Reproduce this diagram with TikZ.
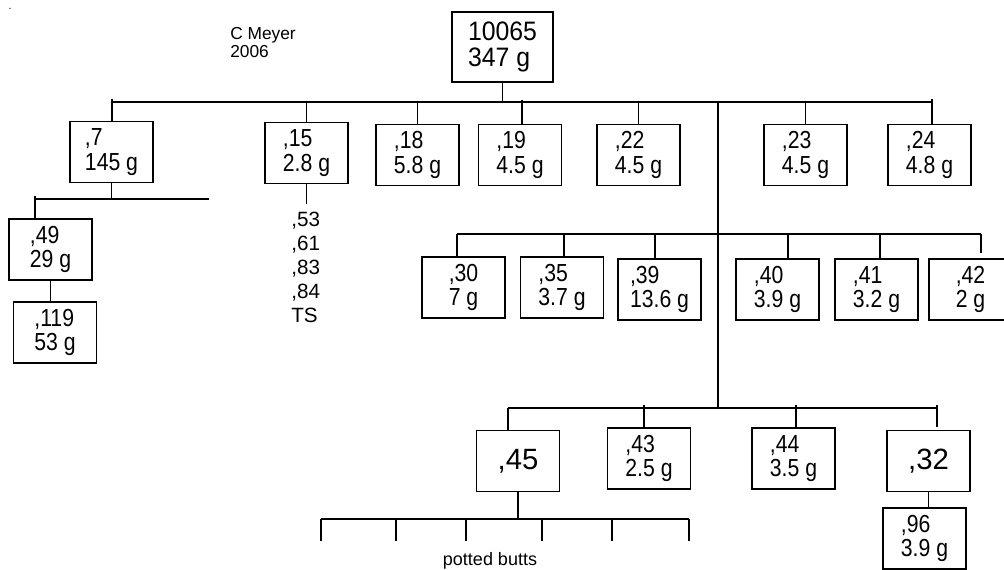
\documentclass[tikz,border=0pt]{standalone}
\usepackage{fontspec}
\setmainfont{Liberation Sans}
\newfontfamily\narrowfont[FakeStretch=0.86]{Liberation Sans}
\newfontfamily\rootfont[FakeStretch=0.93]{Liberation Sans}
\tikzset{
  wire/.style={line width=1.2pt},
  box/.style={draw, line width=1.2pt, minimum width=62.25pt, minimum height=45.75pt, inner sep=0pt, align=left, font=\narrowfont\fontsize{18.5}{18.5}\selectfont},
  bigbox/.style={box, font=\fontsize{22}{22}\selectfont},
  rootbox/.style={box, minimum width=75.75pt, minimum height=52.5pt, font=\rootfont\fontsize{20}{19}\selectfont},
}
\begin{document}
\begin{tikzpicture}[x=0.75pt,y=0.75pt,yscale=-1,xscale=1]
\path [use as bounding box, clip] (0,0) rectangle (1004,569);

% Text Node
\node [inner sep=0pt, font=\fontsize{8}{8}\selectfont] (dot) at (10,9) {.};
% Text Node
\node [anchor=north west, inner sep=0pt, align=left, font=\fontsize{13}{13.5}\selectfont] (author) at (230,27) {C Meyer\\2006};

%Shape: Rectangle
\node [rootbox] (root) at (502.5,47) {10065\\347 g};

%Shape: Rectangle (first row)
\node [box] (n7) at (111.5,152) {,7\\145 g};
\node [box] (n15) at (306.5,153) {,15\\2.8 g};
\node [box] (n18) at (417.5,155) {,18\\5.8 g};
\node [box] (n19) at (520,155) {,19\\4.5 g};
\node [box] (n22) at (638.5,155) {,22\\4.5 g};
\node [box] (n23) at (805.5,155) {,23\\4.5 g};
\node [box] (n24) at (929.5,155) {,24\\4.8 g};

%Shape: Rectangle (under ,7)
\node [box] (n49) at (50.5,249.5) {,49\\29 g};
\node [box] (n119) at (55,332.5) {,119\\53 g};

% Text Node
\node [anchor=north west, inner sep=0pt, align=left, font=\fontsize{15.5}{18}\selectfont] (list15) at (291,212) {,53\\,61\\,83\\,84\\TS};

%Shape: Rectangle (second row)
\node [box] (n30) at (463.5,287.5) {,30\\7 g};
\node [box] (n35) at (562,287.5) {,35\\3.7 g};
\node [box] (n39) at (659.5,289.5) {,39\\13.6 g};
\node [box] (n40) at (777.5,289.5) {,40\\3.9 g};
\node [box] (n41) at (876.5,289.5) {,41\\3.2 g};
\node [box] (n42) at (970.5,289.5) {,42\\2 g};

%Shape: Rectangle (third row)
\node [bigbox] (n45) at (518,461) {,45};
\node [box] (n43) at (649,458.5) {,43\\2.5 g};
\node [box] (n44) at (793.5,458.5) {,44\\3.5 g};
\node [bigbox] (n32) at (928.5,461) {,32};
\node [box] (n96) at (924.5,538.5) {,96\\3.9 g};

% Text Node
\node [inner sep=0pt, font=\fontsize{13.5}{13.5}\selectfont] (potted) at (490,561) {potted butts};

%Straight Lines (top bar)
\coordinate (busAL) at (112,102);
\coordinate (busAR) at (932,102);
\draw [wire] (busAL) -- (busAR);
\draw [wire] (root.south) -- (root.south |- busAL);
\coordinate (t7) at (112,99);
\draw [wire] (t7) -- (t7 |- n7.north);
\draw [wire] (n15.north |- busAL) -- (n15.north);
\draw [wire] (n18.north |- busAL) -- (n18.north);
\coordinate (t19) at (522,100);
\draw [wire] (t19) -- (t19 |- n19.north);
\draw [wire] (n22.north |- busAL) -- (n22.north);
\draw [wire] (n23.north |- busAL) -- (n23.north);
\coordinate (t24) at (932,99);
\draw [wire] (t24) -- (t24 |- n24.north);

%Straight Lines (trunk)
\coordinate (trunkA) at (718,102);
\coordinate (trunkB) at (718,408);
\draw [wire] (trunkA) -- (trunkB);

%Straight Lines (under ,7)
\coordinate (busEL) at (35,199);
\coordinate (busER) at (209,199);
\draw [wire] (n7.south) -- (n7.south |- busEL);
\draw [wire] (busEL) -- (busER);
\coordinate (t49) at (35,196);
\draw [wire] (t49) -- (t49 |- n49.north);
\draw [wire] (n49.south) -- (n49.south |- n119.north);

%Straight Lines (under ,15)
\coordinate (l15) at (307,204);
\draw [wire] (n15.south) -- (n15.south |- l15);

%Straight Lines (second bar)
\coordinate (busBL) at (457,234);
\coordinate (busBR) at (981,234);
\draw [wire] (busBL) -- (busBR);
\draw [wire] (busBL) -- (busBL |- n30.north);
\coordinate (t35) at (564,234);
\draw [wire] (t35) -- (t35 |- n35.north);
\coordinate (t39) at (655,234);
\draw [wire] (t39) -- (t39 |- n39.north);
\coordinate (t40) at (788,234);
\draw [wire] (t40) -- (t40 |- n40.north);
\coordinate (t41) at (880,234);
\draw [wire] (t41) -- (t41 |- n41.north);
\coordinate (t42) at (981,253);
\draw [wire] (busBR) -- (t42);

%Straight Lines (third bar)
\coordinate (busCL) at (508,408);
\coordinate (busCR) at (937,408);
\draw [wire] (busCL) -- (busCR);
\draw [wire] (busCL) -- (busCL |- n45.north);
\coordinate (t43) at (644,405);
\draw [wire] (t43) -- (t43 |- n43.north);
\coordinate (t44) at (796,405);
\draw [wire] (t44) -- (t44 |- n44.north);
\coordinate (t32a) at (937,405);
\coordinate (t32b) at (937,427);
\draw [wire] (t32a) -- (t32b);
\draw [wire] (n32.south) -- (n32.south |- n96.north);

%Straight Lines (potted butts)
\coordinate (busDL) at (321,519);
\coordinate (busDR) at (689,519);
\draw [wire] (n45.south) -- (n45.south |- busDL);
\draw [wire] (busDL) -- (busDR);
\foreach \x [count=\i] in {321,396,466,542,612,689} {
  \coordinate (pb\i) at (\x,519);
  \draw [wire] (pb\i) -- ++(0,22);
}

\end{tikzpicture}
\end{document}
